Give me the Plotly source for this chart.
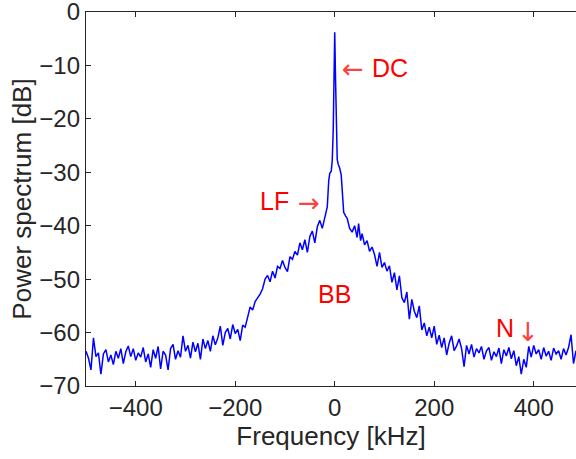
import plotly.graph_objects as go

# frequency bins (kHz), denser around the DC peak
freq_khz = (list(range(-500, -15, 5))
            + [-15, -12, -10, -7, -5, -3, -1.5, 0, 1.5, 3, 5, 7, 10, 13, 16, 18,
               22, 25, 30, 35, 40, 45, 48, 52, 55]
            + list(range(60, 490, 5)))

power_left = [
    -63.5, -64.8, -67.0, -61.0, -64.5, -63.8, -67.8, -64.0, -63.2, -65.5,
    -64.2, -66.0, -63.5, -64.8, -63.0, -65.8, -63.6, -62.5, -64.5, -63.0,
    -65.2, -63.8, -64.6, -62.8, -65.5, -64.0, -66.5, -63.2, -64.8, -62.6,
    -66.8, -63.5, -64.2, -67.0, -63.0, -62.2, -65.0, -63.4, -64.6, -60.6,
    -63.5,
    -62.4, -64.8, -61.8, -63.6, -62.0, -65.0, -61.2, -63.0, -61.5, -63.5,
    -60.6, -62.3, -61.0, -58.8, -62.4, -60.0, -59.2, -61.2, -58.5, -60.2,
    -59.4, -61.5, -58.6, -59.0, -57.0, -55.2, -55.8, -54.2, -53.5, -52.8,
    -51.8, -50.0, -49.3, -50.5, -48.5, -49.8, -47.6, -48.0, -46.5, -47.8,
    -48.6, -45.8, -46.3, -44.8, -45.5, -43.2, -44.5, -42.6, -45.0, -42.0,
    -41.0, -43.2, -40.2, -39.0, -40.5, -38.4,
]
power_center = [
    -36.5, -31.5, -30.2, -29.8, -27.8, -22.0, -12.0, -3.8, -12.0, -22.0,
    -27.6, -28.5, -29.2, -30.5, -34.0, -37.5, -38.2, -38.6, -40.5, -41.2,
    -40.0, -42.2, -39.6, -42.8, -41.5,
]
power_right = [
    -43.6, -42.8, -44.8, -44.0, -45.4, -47.6, -45.0, -47.8, -46.9,
    -48.5, -47.5, -50.6, -48.8, -52.0, -49.4, -53.5, -54.4, -52.4, -57.5,
    -53.8, -56.0, -57.2, -55.0, -59.5, -58.2, -60.6, -59.0, -61.0, -58.8,
    -62.2, -60.5, -62.8, -61.0, -64.2, -62.0, -60.6, -63.4, -62.5, -61.2,
    -63.0, -66.4, -62.4, -64.0, -62.2, -64.6, -63.0, -63.8, -62.6, -65.0,
    -63.4, -62.8, -65.2, -63.6, -64.5, -62.9, -65.8, -63.2, -64.4, -62.8,
    -64.9, -63.4, -66.2, -64.5, -67.8, -65.0, -66.5, -62.6, -64.6, -62.4,
    -64.0, -63.2, -65.0, -62.8, -64.4, -63.5, -65.2, -62.9, -64.0, -63.4,
    -65.0, -63.0, -64.2, -62.8, -60.4, -65.8, -63.4,
]
power_db = power_left + power_center + power_right

x_ticks = [-400, -200, 0, 200, 400]
y_ticks = [0, -10, -20, -30, -40, -50, -60, -70]

# red labels and the arrows next to them: (text, x, y)
labels = [("DC", 111, -10.5), ("LF", -121, -35.4), ("BB", 0, -52.7), ("N", 342, -59.2)]
arrows = [("←", 36, -10.7), ("→", -52, -35.8), ("↓", 388, -59.8)]

ink = "#262626"
font = "Liberation Sans, Arial, sans-serif"

fig = go.Figure()
fig.add_trace(go.Scatter(x=freq_khz, y=power_db, mode="lines",
                         line=dict(color="#0000ff", width=1.5),
                         showlegend=False, hoverinfo="skip"))

for text, x, y in labels:
    fig.add_annotation(x=x, y=y, text=text, showarrow=False,
                       font=dict(family=font, size=25, color="#ff0000"))
for text, x, y in arrows:
    fig.add_annotation(x=x, y=y, text=text, showarrow=False,
                       font=dict(family="DejaVu Sans", size=26, color="#ff4040"))

fig.update_xaxes(range=[-500, 485], tickvals=x_ticks, ticks="inside", ticklen=5,
                 tickwidth=1.3, tickcolor=ink, showline=True, linecolor=ink,
                 linewidth=1.3, mirror="ticks", showgrid=False, zeroline=False,
                 automargin=False, ticklabeloverflow="allow",
                 tickfont=dict(family=font, size=24, color=ink),
                 title=dict(text="Frequency [kHz]", standoff=4,
                            font=dict(family=font, size=26, color=ink)))
fig.update_yaxes(range=[-70, 0], tickvals=y_ticks, ticks="inside", ticklen=5,
                 tickwidth=1.3, tickcolor=ink, showline=True, linecolor=ink,
                 linewidth=1.3, showgrid=False, zeroline=False,
                 automargin=False, ticklabeloverflow="allow",
                 tickfont=dict(family=font, size=24, color=ink),
                 title=dict(text="Power spectrum [dB]", standoff=0,
                            font=dict(family=font, size=26, color=ink)))

fig.update_layout(width=576, height=459, plot_bgcolor="white", paper_bgcolor="white",
                  margin=dict(l=86, r=0, t=12, b=73))

# drop the browser's default 8px page margin so the figure sits at the corner
fig.write_html("out.html", config={"displayModeBar": False},
               post_script="document.body.style.margin='0px';")
